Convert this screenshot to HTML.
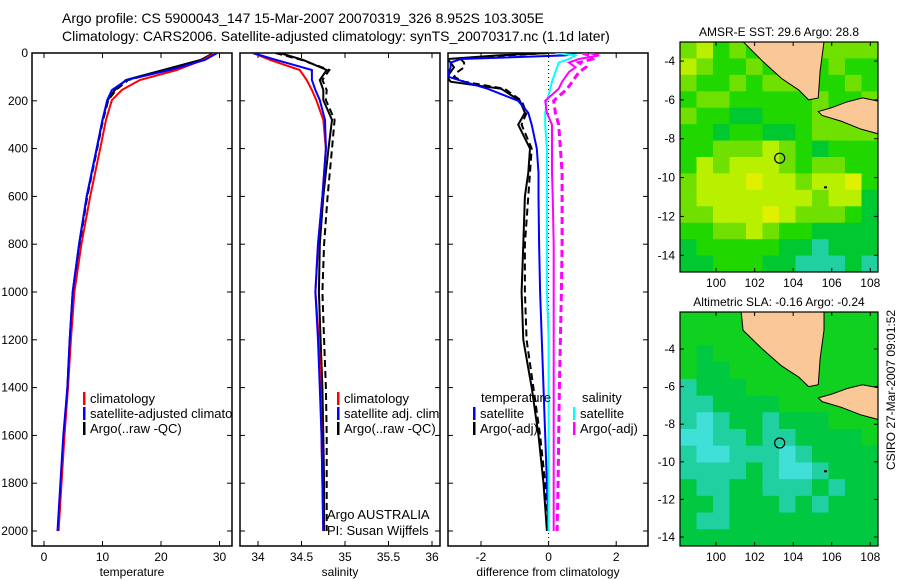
<!DOCTYPE html>
<html><head><meta charset="utf-8"><style>
body{margin:0;background:#fff}
svg{display:block;font-family:"Liberation Sans",sans-serif}
</style></head><body>
<svg id="s" width="900" height="580" viewBox="0 0 900 580" xmlns="http://www.w3.org/2000/svg">
<rect width="900" height="580" fill="#fff"/>
<text x="62" y="23" font-size="14">Argo profile: CS 5900043_147 15-Mar-2007 20070319_326 8.952S 103.305E</text>
<text x="62" y="41" font-size="14">Climatology: CARS2006. Satellite-adjusted climatology: synTS_20070317.nc (1.1d later)</text>
<text transform="translate(895,470) rotate(-90)" font-size="12">CSIRO 27-Mar-2007 09:01:52</text>
<defs>
<clipPath id="c1"><rect x="32" y="53" width="200" height="493"/></clipPath>
<clipPath id="c2"><rect x="240" y="53" width="200" height="493"/></clipPath>
<clipPath id="c3"><rect x="448" y="53" width="200" height="493"/></clipPath>
<clipPath id="m1"><rect x="680" y="42" width="198" height="230"/></clipPath>
<clipPath id="m2"><rect x="680" y="312" width="198" height="234"/></clipPath>
</defs>
<g id="g"></g>
</svg>
<script>
// ---- profile data ----
const depths = [0,29,71,113,155,197,280,400,600,800,1000,1200,1400,1600,1800,2000];
const climT = [29.2,27.2,22.7,16.4,13.3,11.6,10.6,9.6,7.9,6.4,5.2,4.6,4.1,3.5,3.0,2.5];
const satT  = [29.6,27.5,21.5,14.1,11.6,10.8,10.0,9.0,7.3,6.0,4.9,4.4,4.0,3.3,2.8,2.3];
const argoT = [29.0,26.8,20.4,14.0,12.1,10.9,10.0,9.0,7.3,6.0,4.9,4.4,4.0,3.4,2.9,2.4];
const argoTraw = [29.3,27.0,20.9,14.4,12.3,11.0,10.1,9.1,7.4,6.1,5.0,4.5,4.05,3.45,2.95,2.45];
const climS = [33.94,34.14,34.48,34.56,34.62,34.67,34.75,34.78,34.74,34.69,34.66,34.7,34.72,34.73,34.74,34.75];
const satS  = [33.94,34.21,34.62,34.62,34.66,34.71,34.77,34.78,34.74,34.69,34.66,34.69,34.71,34.73,34.74,34.75];
const argoS = [34.25,34.52,34.79,34.71,34.75,34.75,34.85,34.81,34.75,34.71,34.70,34.72,34.74,34.75,34.76,34.76];
const argoSraw = [34.2,34.5,34.82,34.74,34.79,34.78,34.88,34.85,34.8,34.76,34.74,34.76,34.78,34.79,34.79,34.79];
// ---- difference data ----
const depthsD = [0,10,25,40,60,80,100,120,150,200,250,300,400,500,600,800,1000,1200,1400,1600,1800,2000];
const dSatT  = [0.8,0.5,-2.6,-2.9,-2.9,-2.95,-2.95,-2.5,-1.8,-0.9,-0.6,-0.5,-0.35,-0.3,-0.3,-0.28,-0.25,-0.2,-0.15,-0.1,-0.05,0];
const dArgoT = [0,-1.5,-3,-2.9,-2.8,-2.9,-3,-2.9,-1.4,-0.85,-0.7,-0.9,-0.55,-0.6,-0.7,-0.75,-0.8,-0.75,-0.5,-0.3,-0.15,-0.05];
const dArgoTraw = [0,-1.2,-2.6,-2.5,-2.5,-2.7,-2.8,-2.5,-1.3,-0.8,-0.65,-0.8,-0.5,-0.55,-0.6,-0.7,-0.7,-0.65,-0.45,-0.25,-0.1,0];
const dSatS  = [0.2,0.8,0.6,0.3,0.25,0.2,0.15,0.1,0.05,-0.05,-0.1,-0.1,-0.05,-0.05,-0.05,-0.05,-0.05,0,0,0,0,0];
const dArgoS = [1.2,1.5,0.9,0.6,0.8,0.6,0.5,0.4,0.3,-0.1,-0.05,0.1,0.1,0.1,0.12,0.15,0.15,0.15,0.15,0.15,0.15,0.15];
const dArgoSraw = [1.0,1.2,1.3,0.9,1.1,0.9,0.8,0.7,0.55,0.15,0.2,0.3,0.35,0.4,0.4,0.4,0.38,0.35,0.32,0.3,0.28,0.25];
// ---- tick labels ----
const depthTicks = [0,200,400,600,800,1000,1200,1400,1600,1800,2000];
const tTicks = [0,10,20,30];
const sTicks = [34,34.5,35,35.5,36];
const dTicks = [-2,0,2];
const lonTicks = [100,102,104,106,108];
const latTicks = [-4,-6,-8,-10,-12,-14];
// ---- map grids (colour class per cell) ----
const sstGrid = ["lyglggglllll","ylgglgylglgg","lgglglllgglg","gllggggglggl","lggGGgggllll","ggGggGGgllll","gglllylgGggg","gylyyylgllgg","lyyyYyylyyYg","lyyyyyyylyyG","llyyyYylllgG","ggllylggGGGG","GgggggGGcGGG","GGgggGGcccGc"];
const slaGrid = ["gggggggggggg","gggggggggggg","gGgggggggggg","gGGggggggggg","cGGGgggggggg","ccGGGGgggggg","cCcGGcGGGggg","CCccGccGGGGg","cCCcccCcGGGG","ccccGcCCcGGG","GccGGcccGcGG","GGcGGGcGcGGG","GccGGGGGGGGG","GGGGGGGGGGGG"];
const sumatra = [[101.3,-2],[101.4,-3.0],[102.4,-4.0],[103.4,-4.9],[104.3,-5.5],[104.8,-6.0],[105.3,-5.9],[105.4,-4.5],[105.6,-3.0],[105.6,-2]];
const java = [[105.3,-6.6],[106,-6.4],[106.8,-6.1],[107.6,-5.9],[108.6,-6.1],[108.6,-7.8],[107.5,-7.5],[106.5,-7.1],[105.5,-6.8]];
const argoPos = [103.3,-9.0];

const NS="http://www.w3.org/2000/svg";
const G=document.getElementById('g');
function mk(tag,attrs,parent){const e=document.createElementNS(NS,tag);for(const k in attrs)e.setAttribute(k,attrs[k]);(parent||G).appendChild(e);return e;}
function txt(x,y,s,anchor,size,parent){const t=mk('text',{x:x,y:y,'font-size':size||12,'text-anchor':anchor||'start'},parent);t.textContent=s;return t;}

const yD = d => 53 + d*0.239;
const xT = t => 44 + t*5.85;
const xS = s => 258 + (s-34)*87;
const xDf = v => 548.6 + v*33.8;

function panel(x0,name,xs,ticks,fmt,label){
  const r=mk('rect',{x:x0,y:53,width:200,height:493,fill:'none',stroke:'#000','stroke-width':1.5});
  
  
  depthTicks.forEach(d=>{const y=yD(d);
    mk('line',{x1:x0,x2:x0+5,y1:y,y2:y,stroke:'#000'});mk('line',{x1:x0+195,x2:x0+200,y1:y,y2:y,stroke:'#000'});});
  ticks.forEach(v=>{const x=xs(v);
    mk('line',{x1:x,x2:x,y1:53,y2:58,stroke:'#000'});mk('line',{x1:x,x2:x,y1:541,y2:546,stroke:'#000'});
    const t=txt(x,561,fmt(v),'middle',12);
    
    });
  const l=txt(x0+100,576,label,'middle',12);
  
  
}
panel(32,'temperature-panel',xT,tTicks,v=>String(v),'temperature');
panel(240,'salinity-panel',xS,sTicks,v=>String(v),'salinity');
panel(448,'difference-panel',xDf,dTicks,v=>String(v),'difference from climatology');
depthTicks.forEach(d=>{const t=txt(28,yD(d)+4,String(d),'end',12);
  
  });

function line(xs,vals,dep,fx,color,w,dash,clip,name){
  const pts=vals.map((v,i)=>fx(v).toFixed(1)+','+yD(dep[i]).toFixed(1)).join(' ');
  const p=mk('polyline',{points:pts,fill:'none',stroke:color,'stroke-width':w,'clip-path':'url(#'+clip+')'});
  if(dash)p.setAttribute('stroke-dasharray',dash);
  
  
}
line(0,argoTraw,depths,xT,'#000',2,'7,4','c1','argo-raw-temperature-line');
line(0,argoT,depths,xT,'#000',2,null,'c1','argo-temperature-line');
line(0,climT,depths,xT,'#f00',2,null,'c1','climatology-temperature-line');
line(0,satT,depths,xT,'#00f',2,null,'c1','satellite-temperature-line');
line(0,argoSraw,depths,xS,'#000',2,'7,4','c2','argo-raw-salinity-line');
line(0,argoS,depths,xS,'#000',2,null,'c2','argo-salinity-line');
line(0,climS,depths,xS,'#f00',2,null,'c2','climatology-salinity-line');
line(0,satS,depths,xS,'#00f',2,null,'c2','satellite-salinity-line');
mk('line',{x1:xDf(0),x2:xDf(0),y1:53,y2:546,stroke:'#000','stroke-dasharray':'1,3'});
line(0,dArgoTraw,depthsD,xDf,'#000',2,'7,4','c3','argo-raw-temp-diff-line');
line(0,dArgoT,depthsD,xDf,'#000',2,null,'c3','argo-temp-diff-line');
line(0,dSatT,depthsD,xDf,'#00f',2,null,'c3','satellite-temp-diff-line');
line(0,dSatS,depthsD,xDf,'#0ff',2,null,'c3','satellite-sal-diff-line');
line(0,dArgoSraw,depthsD,xDf,'#f0f',3,'7,4','c3','argo-raw-sal-diff-line');
line(0,dArgoS,depthsD,xDf,'#f0f',2,null,'c3','argo-sal-diff-line');

function legend(x,y,color,label,clip,name){
  const g=mk('g',{'clip-path':clip?'url(#'+clip+')':''});
  
  
  mk('rect',{x:x,y:y-10,width:2.5,height:13,fill:color},g);
  txt(x+7,y+1,label,'start',13,g);
}
legend(83,402,'#f00','climatology','c1','legend-climatology');
legend(83,417,'#00f','satellite-adjusted climatology','c1','legend-satellite-adjusted');
legend(83,432,'#000','Argo(..raw -QC)','c1','legend-argo');
legend(337,402,'#f00','climatology','c2','legend-sal-climatology');
legend(337,417,'#00f','satellite adj. clim.','c2','legend-sal-satellite');
legend(337,432,'#000','Argo(..raw -QC)','c2','legend-sal-argo');
let t1=txt(481,402,'temperature','start',13);
let t2=txt(582,402,'salinity','start',13);
legend(473,417,'#00f','satellite','c3','legend-temp-satellite');
legend(473,432,'#000','Argo(-adj)','c3','legend-temp-argo');
legend(573,417,'#0ff','satellite','c3','legend-sal-satellite-diff');
legend(573,432,'#f0f','Argo(-adj)','c3','legend-sal-argo-diff');
let a1=txt(327,519,'Argo AUSTRALIA','start',13);
let a2=txt(327,535,'PI: Susan Wijffels','start',13);

// ---- maps ----
const colors={g:'#20d800',G:'#00c830',l:'#70e000',y:'#b8f000',Y:'#e0f000',c:'#20d0a0',C:'#40e0d0'};
const colors2={g:'#10d020',G:'#00c840',c:'#20d0a0',C:'#40e0d8'};
function map(top,bot,latTop,latBot,grid,cols,clip,name,title){
  const lon0=98.13,lon1=108.4;
  const X=lo=>680+(lo-lon0)/(lon1-lon0)*198;
  const Y=la=>top+(latTop-la)/(latTop-latBot)*(bot-top);
  const g=mk('g',{'clip-path':'url(#'+clip+')'});
  
  
  const nr=grid.length,nc=grid[0].length,cw=198/nc,ch=(bot-top)/nr;
  grid.forEach((row,r)=>{for(let c=0;c<nc;c++)mk('rect',{x:680+c*cw,y:top+r*ch,width:cw+0.5,height:ch+0.5,fill:cols[row[c]]},g);});
  [sumatra,java].forEach(poly=>mk('polygon',{points:poly.map(p=>X(p[0])+','+Y(p[1])).join(' '),fill:'#fac896',stroke:'#000','stroke-width':1},g));
  const m=mk('circle',{cx:X(argoPos[0]),cy:Y(argoPos[1]),r:5,fill:'none',stroke:'#000','stroke-width':1.2});
  
  
  mk('rect',{x:X(105.6),y:Y(-10.45),width:3,height:2,fill:'#000'},g);
  mk('rect',{x:680,y:top,width:198,height:bot-top,fill:'none',stroke:'#000','stroke-width':1.2});
  lonTicks.forEach(lo=>{const x=X(lo);mk('line',{x1:x,x2:x,y1:top,y2:top+4,stroke:'#000'});mk('line',{x1:x,x2:x,y1:bot-4,y2:bot,stroke:'#000'});
    const t=txt(x,bot+15,String(lo),'middle',12);});
  latTicks.forEach(la=>{const y=Y(la);mk('line',{x1:680,x2:684,y1:y,y2:y,stroke:'#000'});mk('line',{x1:874,x2:878,y1:y,y2:y,stroke:'#000'});
    const t=txt(675,y+4,String(la),'end',12);});
  const tt=txt(779,top-6,title,'middle',12);
}
map(42,272,-3.02,-14.86,sstGrid,colors,'m1','sst-map','AMSR-E SST: 29.6 Argo: 28.8');
map(312,546,-2.03,-14.48,slaGrid,colors2,'m2','sla-map','Altimetric SLA: -0.16 Argo: -0.24');
</script>
</body></html>
